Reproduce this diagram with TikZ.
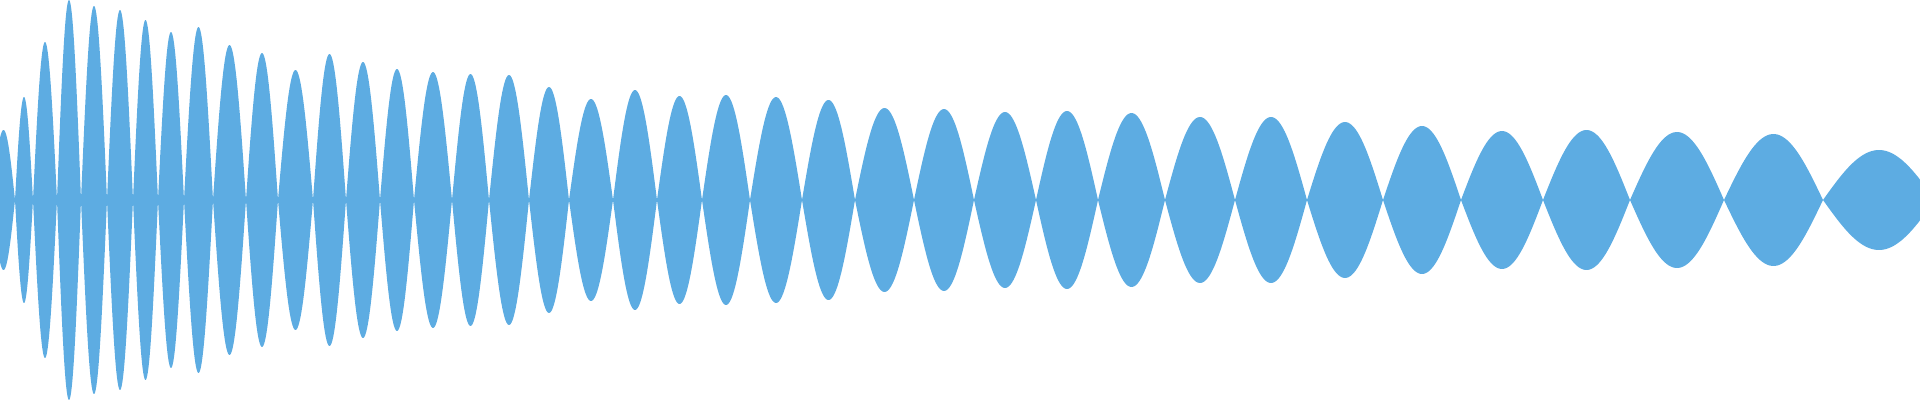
\documentclass[tikz,border=0pt]{standalone}
\definecolor{wave}{RGB}{93,172,226}
\tikzset{lobe/.style={fill=wave,draw=none}}
\begin{document}
\begin{tikzpicture}[x=0.01cm,y=-0.01cm]
\useasboundingbox (0,0) rectangle (1920,400);
\clip (0,0) rectangle (1920,400);
\foreach \a/\b/\h in {-8/15/70,15/33/103,33/57/158,57/81/200,81/107/194,107/133/190,133/158/180,158/184/168,184/213/173,213/246/155,246/278/147,278/313/130,313/346/146,346/380/138,380/414/131,414/452/128,452/489/126,489/529/125,529/569/113,569/613/101,613/657/110,657/702/104,702/750/105,750/802/103,802/855/100,855/914/92,914/974/91,974/1036/88,1036/1098/89,1098/1165/87,1165/1235/83,1235/1307/83,1307/1383/78,1383/1461/74,1461/1543/69,1543/1630/70,1630/1724/68,1724/1823/66,1823/1935/50}{
  \fill[lobe] plot[domain=0:1,samples=40,variable=\t] ({\a+(\b-\a)*\t},{200-\h*sin(180*\t)})
    -- plot[domain=1:0,samples=40,variable=\t] ({\a+(\b-\a)*\t},{200+\h*sin(180*\t)}) -- cycle;
}
\end{tikzpicture}
\end{document}
